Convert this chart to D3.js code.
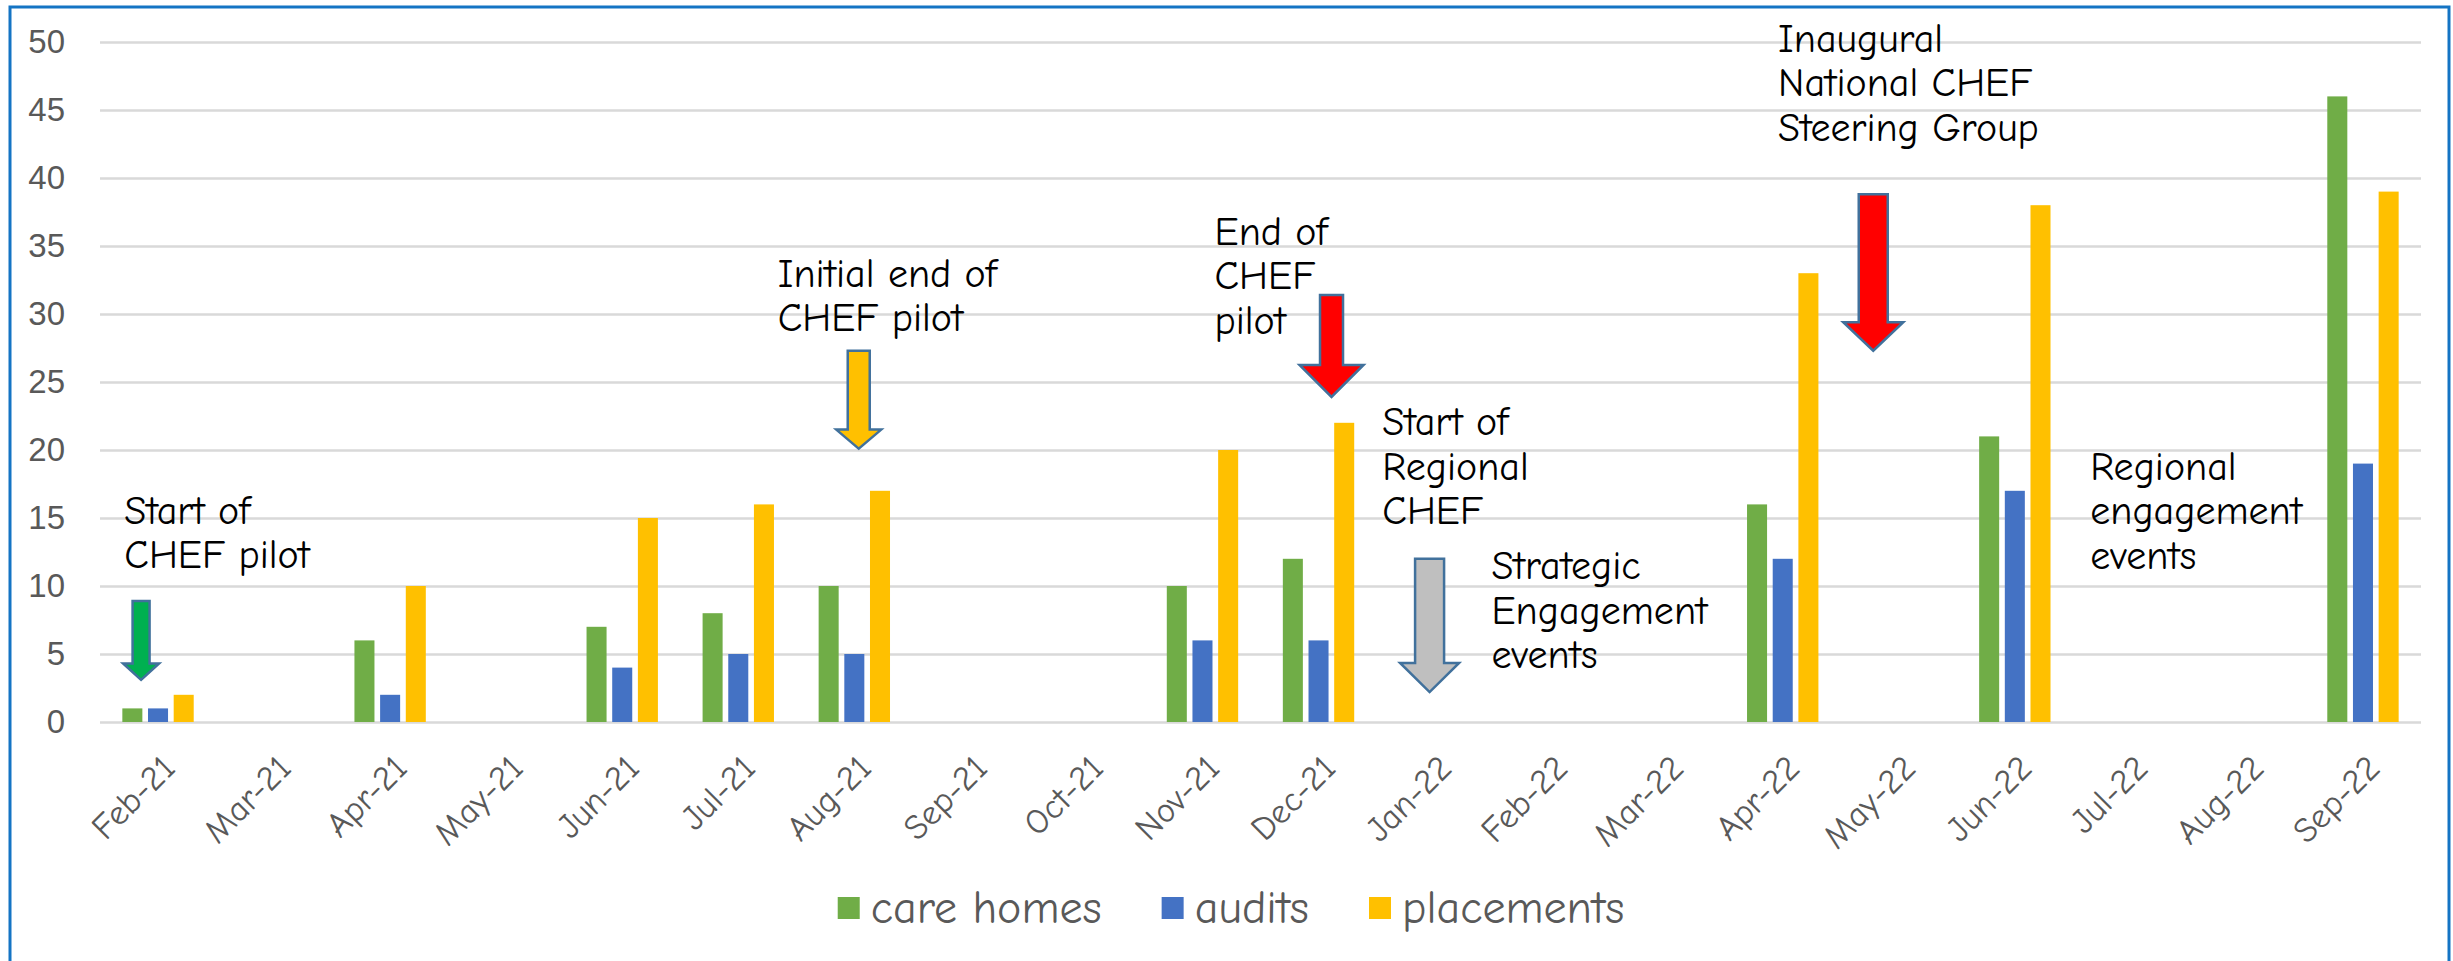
<!DOCTYPE html>
<html>
<head>
<meta charset="utf-8">
<script src="https://cdn.jsdelivr.net/npm/d3@7"></script>
<style>
  html, body { margin: 0; padding: 0; background: #fff; }
  svg { display: block; }
  .hand { font-family: 'Comic Sans MS', 'Comic Neue', 'Open Sans', sans-serif; }
</style>
</head>
<body>
<svg id="chart"></svg>
<script>
// months on the x axis
const months = ["Feb-21","Mar-21","Apr-21","May-21","Jun-21","Jul-21","Aug-21","Sep-21","Oct-21","Nov-21",
                "Dec-21","Jan-22","Feb-22","Mar-22","Apr-22","May-22","Jun-22","Jul-22","Aug-22","Sep-22"];

// series values (null = no bar that month)
const careHomes  = [1, null, 6, null, 7, 8, 10, null, null, 10, 12, null, null, null, 16, null, 21, null, null, 46];
const audits     = [1, null, 2, null, 4, 5, 5,  null, null, 6,  6,  null, null, null, 12, null, 17, null, null, 19];
const placements = [2, null, 10, null, 15, 16, 17, null, null, 20, 22, null, null, null, 33, null, 38, null, null, 39];

const seriesNames  = ["care homes", "audits", "placements"];
const seriesColors = ["#70AD47", "#4472C4", "#FFC000"];

const yTicks = [0, 5, 10, 15, 20, 25, 30, 35, 40, 45, 50];

// text callouts: anchored on a month (dx in band widths) and a y value
const notes = [
  { lines: ["Start of", "CHEF pilot"],                          month: "Feb-21", dx: -0.29,  y: 14.56 },
  { lines: ["Initial end of", "CHEF pilot"],                    month: "Aug-21", dx: -0.66,  y: 32.0 },
  { lines: ["End of", "CHEF", "pilot"],                         month: "Dec-21", dx: -0.896, y: 35.1 },
  { lines: ["Start of", "Regional", "CHEF"],                    month: "Dec-21", dx: 0.55,   y: 21.1 },
  { lines: ["Strategic", "Engagement", "events"],               month: "Jan-22", dx: 0.49,   y: 10.5 },
  { lines: ["Inaugural", "National CHEF", "Steering Group"],    month: "May-22", dx: -1.04,  y: 49.3 },
  { lines: ["Regional", "engagement", "events"],                month: "Jul-22", dx: -0.35,  y: 17.8 }
];

// block arrows pointing down
const arrows = [
  { month: "Feb-21", dx: -0.146, top: 8.9,  neck: 4.3,   tip: 3.1,  fill: "#00B050" },
  { month: "Aug-21", dx: 0.038,  top: 27.3, neck: 21.5,  tip: 20.1, fill: "#FFC000" },
  { month: "Dec-21", dx: 0.112,  top: 31.4, neck: 26.25, tip: 23.9, fill: "#FF0000" },
  { month: "Jan-22", dx: -0.043, top: 12.0, neck: 4.34,  tip: 2.2,  fill: "#BFBFBF" },
  { month: "May-22", dx: -0.22,  top: 38.8, neck: 29.4,  tip: 27.3, fill: "#FF0000" }
];
// shaft / head widths in px, same order as arrows
const arrowShaft = [17, 22, 23, 29, 29];
const arrowHead  = [36, 45, 64, 59, 60];

class GroupedBarChart {

  constructor(_config) {
    this.config = {
      parentElement: _config.parentElement,
      containerWidth: _config.containerWidth || 2453,
      containerHeight: _config.containerHeight || 961,
      margin: { top: 42, bottom: 239, right: 32, left: 100 }
    };
    this.initVis();
  }

  initVis() {
    let vis = this;
    const m = vis.config.margin;
    vis.width = vis.config.containerWidth - m.left - m.right;
    vis.height = vis.config.containerHeight - m.top - m.bottom;

    vis.svg = d3.select(vis.config.parentElement)
      .attr('width', vis.config.containerWidth)
      .attr('height', vis.config.containerHeight);

    // outer blue frame (bottom edge runs off the picture)
    vis.svg.append('rect')
      .attr('x', 10).attr('y', 7)
      .attr('width', 2439).attr('height', 1000)
      .attr('fill', 'none')
      .attr('stroke', '#1474C4')
      .attr('stroke-width', 3);

    vis.chart = vis.svg.append('g')
      .attr('transform', `translate(${m.left},${m.top})`);

    vis.x0 = d3.scaleBand().domain(months).range([0, vis.width]).padding(0);
    const bw = vis.x0.bandwidth();
    vis.x1 = d3.scaleBand().domain(seriesNames).range([bw * 0.1925, bw * 0.8075]).paddingInner(0.22);
    vis.y = d3.scaleLinear().domain([0, 50]).range([vis.height, 0]);
    vis.color = d3.scaleOrdinal().domain(seriesNames).range(seriesColors);

    // y axis with gridlines
    const yAxis = vis.chart.append('g')
      .call(d3.axisLeft(vis.y).tickValues(yTicks).tickSize(-vis.width).tickPadding(35));
    yAxis.select('.domain').remove();
    yAxis.selectAll('line').attr('stroke', '#D9D9D9').attr('stroke-width', 2.5);
    yAxis.selectAll('text')
      .attr('fill', '#595959')
      .style('font-family', "'Liberation Sans', Arial, sans-serif")
      .style('font-size', '33px');

    // x axis labels, rotated
    const xAxis = vis.chart.append('g')
      .attr('transform', `translate(0,${vis.height})`)
      .call(d3.axisBottom(vis.x0).tickSize(0).tickPadding(0));
    xAxis.select('.domain').remove();
    xAxis.selectAll('text')
      .attr('class', 'hand')
      .attr('fill', '#595959')
      .style('font-size', '35px')
      .attr('text-anchor', 'end')
      .attr('dy', null)
      .attr('y', 0)
      .attr('transform', 'translate(19,48) rotate(-45)');

    // bars
    const rows = months.map((mo, i) => ({
      month: mo,
      vals: [careHomes[i], audits[i], placements[i]]
        .map((v, k) => ({ key: seriesNames[k], v: v }))
        .filter(d => d.v != null)
    }));

    vis.chart.selectAll('.grp')
      .data(rows)
      .join('g')
        .attr('class', 'grp')
        .attr('transform', d => `translate(${vis.x0(d.month)},0)`)
      .selectAll('rect')
      .data(d => d.vals)
      .join('rect')
        .attr('x', d => vis.x1(d.key))
        .attr('y', d => vis.y(d.v))
        .attr('width', vis.x1.bandwidth())
        .attr('height', d => vis.y(0) - vis.y(d.v))
        .attr('fill', d => vis.color(d.key));

    // arrows
    const cx = (mo, dx) => vis.x0(mo) + bw / 2 + dx * bw;
    vis.chart.selectAll('.arrow')
      .data(arrows)
      .join('path')
        .attr('class', 'arrow')
        .attr('d', (d, i) => {
          const c = cx(d.month, d.dx), s = arrowShaft[i] / 2, h = arrowHead[i] / 2;
          const t = vis.y(d.top), n = vis.y(d.neck), p = vis.y(d.tip);
          return `M${c - s},${t}L${c + s},${t}L${c + s},${n}L${c + h},${n}L${c},${p}L${c - h},${n}L${c - s},${n}Z`;
        })
        .attr('fill', d => d.fill)
        .attr('stroke', '#41719C')
        .attr('stroke-width', 2.5)
        .attr('stroke-linejoin', 'miter');

    // callout text
    vis.chart.selectAll('.note')
      .data(notes)
      .join('text')
        .attr('class', 'note hand')
        .attr('x', d => cx(d.month, d.dx))
        .attr('y', d => vis.y(d.y))
        .attr('fill', '#000')
        .style('font-size', '40px')
      .selectAll('tspan')
      .data(d => d.lines.map(l => ({ l: l, x: cx(d.month, d.dx) })))
      .join('tspan')
        .attr('x', d => d.x)
        .attr('dy', (d, i) => i === 0 ? 0 : 44.5)
        .text(d => d.l);

    // legend, centred under the chart
    const legend = vis.svg.append('g').attr('class', 'legend');
    const items = legend.selectAll('g')
      .data(seriesNames)
      .join('g');
    items.append('rect')
      .attr('width', 22).attr('height', 22)
      .attr('y', -11)
      .attr('fill', d => vis.color(d));
    items.append('text')
      .attr('class', 'hand')
      .attr('x', 33)
      .attr('dy', '0.32em')
      .attr('fill', '#595959')
      .style('font-size', '46px')
      .text(d => d);
    let off = 0;
    items.each(function() {
      const w = 33 + d3.select(this).select('text').node().getComputedTextLength();
      d3.select(this).attr('transform', `translate(${off},0)`);
      off += w + 60;
    });
    const total = off - 60;
    legend.attr('transform', `translate(${1231 - total / 2},908)`);
  }
}

new GroupedBarChart({ parentElement: '#chart', containerWidth: 2453, containerHeight: 961 });
</script>
</body>
</html>
